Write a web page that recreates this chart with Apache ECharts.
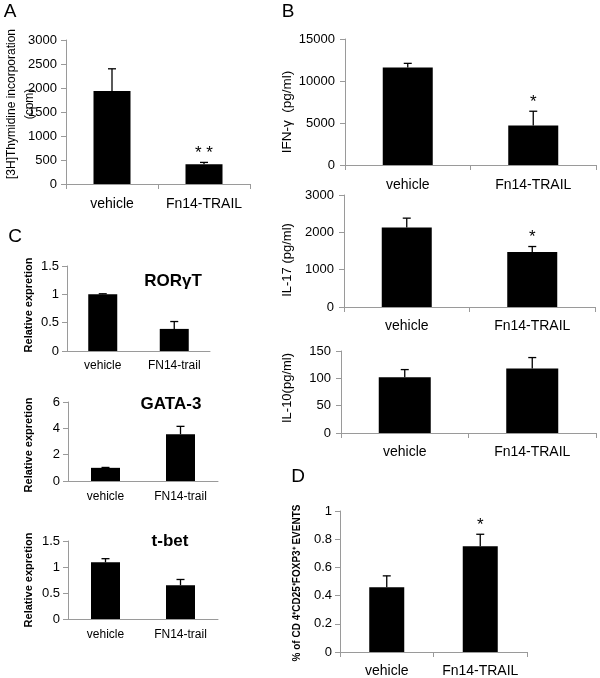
<!DOCTYPE html>
<html><head><meta charset="utf-8">
<script src="https://cdn.jsdelivr.net/npm/echarts@6/dist/echarts.min.js"></script>
<style>html,body{margin:0;padding:0;background:#fff}#c{width:600px;height:678px}</style>
</head><body><div id="c"></div>
<script>
// ---- data ----
const catsAB = ['vehicle', 'Fn14-TRAIL'];
const catsC = ['vehicle', 'FN14-trail'];
const thymMean = [1940, 410];   const thymErr = [460, 40];   const thymSig = ['', '* *'];
const ifnMean = [11600, 4700];  const ifnErr = [500, 1700];  const ifnSig = ['', '*'];
const il17Mean = [2130, 1470];  const il17Err = [250, 150];  const il17Sig = ['', '*'];
const il10Mean = [102, 118];    const il10Err = [14, 20];    const il10Sig = ['', ''];
const rorMean = [1.0, 0.39];    const rorErr = [0.01, 0.13];
const gataMean = [1.0, 3.55];   const gataErr = [0.03, 0.6];
const tbetMean = [1.09, 0.65];  const tbetErr = [0.07, 0.11];
const tregMean = [0.46, 0.75];  const tregErr = [0.08, 0.085]; const tregSig = ['', '*'];
const noSig = ['', ''];

// ---- layout ----
const FONT = '"Liberation Sans", Arial, Helvetica, sans-serif';
const panels = [
  {grid:{left:66,top:40,width:184,height:144}, cats:catsAB, mean:thymMean, err:thymErr, sig:thymSig, max:3000, interval:500, bw:37, xfs:14, xm:13, ym:9, xt:true},
  {grid:{left:345,top:39,width:251,height:126}, cats:catsAB, mean:ifnMean, err:ifnErr, sig:ifnSig, max:15000, interval:5000, bw:50, xfs:14, xm:13, ym:10, xt:true},
  {grid:{left:344,top:195,width:251,height:112}, cats:catsAB, mean:il17Mean, err:il17Err, sig:il17Sig, max:3000, interval:1000, bw:50, xfs:14, xm:12, ym:10, xt:true},
  {grid:{left:341,top:351,width:255,height:82}, cats:catsAB, mean:il10Mean, err:il10Err, sig:il10Sig, max:150, interval:50, bw:52, xfs:14, xm:12, ym:10, xt:true},
  {grid:{left:67,top:266,width:143,height:85}, cats:catsC, mean:rorMean, err:rorErr, sig:noSig, max:1.5, interval:0.5, bw:29, xfs:12, xm:9, ym:8, xt:false},
  {grid:{left:68,top:402,width:150,height:79}, cats:catsC, mean:gataMean, err:gataErr, sig:noSig, max:6, interval:2, bw:29, xfs:12, xm:10, ym:8, xt:false},
  {grid:{left:68,top:541,width:150,height:78}, cats:catsC, mean:tbetMean, err:tbetErr, sig:noSig, max:1.5, interval:0.5, bw:29, xfs:12, xm:10, ym:8, xt:false},
  {grid:{left:340,top:511,width:187,height:141}, cats:catsAB, mean:tregMean, err:tregErr, sig:tregSig, max:1, interval:0.2, bw:35, xfs:14, xm:12, ym:8, xt:true}
];

const AX = '#9a9a9a';
const fmt = v => String(+(+v).toFixed(3));
const grids = [], xAxes = [], yAxes = [], series = [];
panels.forEach((p, i) => {
  grids.push(Object.assign({containLabel:false}, p.grid));
  xAxes.push({type:'category', gridIndex:i, data:p.cats,
    axisLine:{lineStyle:{color:AX, width:1}},
    axisTick:{show:p.xt, length:5, lineStyle:{color:AX}},
    axisLabel:{color:'#000', fontSize:p.xfs, margin:p.xm, fontFamily:FONT, interval:0, hideOverlap:false}});
  yAxes.push({type:'value', gridIndex:i, min:0, max:p.max, interval:p.interval,
    splitLine:{show:false},
    axisLine:{show:true, lineStyle:{color:AX, width:1}},
    axisTick:{show:true, length:5, lineStyle:{color:AX}},
    axisLabel:{color:'#000', fontSize:13, margin:p.ym, fontFamily:FONT, formatter:fmt}});
  series.push({type:'bar', xAxisIndex:i, yAxisIndex:i, data:p.mean, barWidth:p.bw,
    itemStyle:{color:'#000'}, silent:true, animation:false});
  const sig = p.sig;
  series.push({type:'custom', xAxisIndex:i, yAxisIndex:i, animation:false, silent:true,
    data:p.mean.map((m, k) => [k, m, p.err[k]]),
    renderItem:function(params, api){
      const x = api.value(0), m = api.value(1), e = api.value(2);
      const base = api.coord([x, m]);
      const top = api.coord([x, m + e]);
      const st = {stroke:'#000', lineWidth:1.3};
      const ch = [
        {type:'line', shape:{x1:base[0], y1:base[1], x2:top[0], y2:top[1]}, style:st},
        {type:'line', shape:{x1:top[0]-4, y1:top[1], x2:top[0]+4, y2:top[1]}, style:st}
      ];
      const s = sig[params.dataIndex];
      if (s) ch.push({type:'text', x:top[0], y:top[1]-9,
        style:{text:s, fontSize:17, fontFamily:FONT, fill:'#000', align:'center', verticalAlign:'middle'}});
      return {type:'group', children:ch};
    }});
});

function txt(x, y, text, size, bold, rot, lh) {
  return {type:'text', x:x, y:y, rotation:rot || 0, silent:true,
    style:{text:text, fontSize:size, fontWeight:bold ? 'bold' : 'normal', fontFamily:FONT,
      fill:'#000', align:'center', verticalAlign:'middle', lineHeight:lh || size * 1.2}};
}
const R = Math.PI / 2;
const graphic = [
  txt(10, 12, 'A', 19), txt(288, 12, 'B', 19), txt(15, 237, 'C', 19), txt(298, 477, 'D', 19),
  txt(21, 104, '[3H]Thymidine incorporation\n(cpm)', 12, false, R, 18),
  txt(287, 112, 'IFN-\u03b3  (pg/ml)', 13.5, false, R),
  txt(287, 260, 'IL-17 (pg/ml)', 13, false, R),
  txt(287, 388, 'IL-10(pg/ml)', 13, false, R),
  txt(29, 305, 'Relative expretion', 11, true, R),
  txt(29, 445, 'Relative expretion', 11, true, R),
  txt(29, 580, 'Relative expretion', 11, true, R),
  txt(173, 281, 'ROR\u03b3T', 17, true),
  txt(171, 404, 'GATA-3', 17, true),
  txt(170, 541, 't-bet', 17, true),
  txt(297, 583, '% of CD 4\u207aCD25\u207aFOXP3\u207a EVENTS', 10, true, R)
];

const chart = echarts.init(document.getElementById('c'), null, {renderer:'canvas'});
chart.setOption({animation:false, backgroundColor:'#fff', textStyle:{fontFamily:FONT},
  grid:grids, xAxis:xAxes, yAxis:yAxes, series:series, graphic:graphic});
</script></body></html>
